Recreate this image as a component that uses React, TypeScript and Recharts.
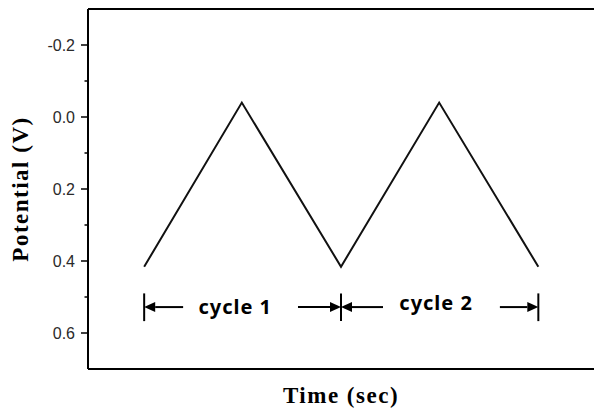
import { LineChart, Line, XAxis, YAxis, ReferenceLine, ReferenceDot } from "recharts";

// triangular potential sweep (time in arbitrary units, potential in V)
const times = [11.1, 30.4, 50, 69.4, 89];
const potentials = [0.416, -0.04, 0.416, -0.04, 0.416];

// y ticks: majors labelled, minors in between
const yTicks = [-0.2, -0.1, 0, 0.1, 0.2, 0.3, 0.4, 0.5, 0.6];

// cycle annotation
const cycleBounds = [11.1, 50, 89];
const arrowTails = [18.8, 41.5, 58.3, 81.4];
const arrowHeads = [11.1, 50, 50, 89];
const arrowLevel = 0.528;
const barRange = [0.49, 0.567];
const cycleLabels = ["cycle 1", "cycle 2"];
const cycleLabelX = [29.1, 68.8];
const cycleLabelY = [0.528, 0.515];

const data = times.map((t, i) => ({ t, v: potentials[i] }));

const YTick = (props: any) => {
  const { x, y, payload, tickSize = 7, tickMargin = 6 } = props;
  const axisX = x + tickSize + tickMargin;
  const v = payload.value as number;
  const major = Math.round(v * 10) % 2 === 0;
  return (
    <g>
      <line x1={axisX - (major ? 7 : 3.5)} x2={axisX} y1={y} y2={y} stroke="#000" strokeWidth={1.5} />
      {major && (
        <text
          x={x}
          y={y}
          dy={6}
          textAnchor="end"
          fontFamily="'Liberation Sans', Arial, sans-serif"
          fontSize={16}
          fill="#2a2a2a"
        >
          {v.toFixed(1)}
        </text>
      )}
    </g>
  );
};

const Arrow = (props: any) => {
  const { x1, y1, x2, y2 } = props;
  const dir = x2 > x1 ? 1 : -1;
  const head = 11;
  return (
    <g>
      <line x1={x1} y1={y1} x2={x2 - dir * head} y2={y2} stroke="#000" strokeWidth={2} />
      <polygon
        points={`${x2},${y2} ${x2 - dir * head},${y2 - 5} ${x2 - dir * head},${y2 + 5}`}
        fill="#000"
      />
    </g>
  );
};

export default function App() {
  return (
    <div style={{ position: "absolute", left: 0, top: 0, width: 594, height: 412, background: "#fff" }}>
      <LineChart width={594} height={412} data={data} margin={{ top: 9, right: 0, bottom: 0, left: 0 }}>
        <XAxis
          dataKey="t"
          type="number"
          domain={[0, 100]}
          height={43}
          tick={false}
          tickLine={false}
          axisLine={{ stroke: "#000", strokeWidth: 2 }}
          label={{
            value: "Time (sec)",
            position: "insideBottom",
            offset: 9,
            style: {
              fontFamily: "'Liberation Serif', 'Times New Roman', serif",
              fontWeight: 700,
              fontSize: 23,
              letterSpacing: 1.5,
              fill: "#000",
            },
          }}
        />
        <YAxis
          type="number"
          domain={[-0.3, 0.7]}
          reversed
          ticks={yTicks}
          interval={0}
          width={88}
          tickSize={7}
          tickMargin={6}
          tickLine={false}
          tick={<YTick />}
          axisLine={{ stroke: "#000", strokeWidth: 2 }}
          label={{
            value: "Potential (V)",
            angle: -90,
            position: "insideLeft",
            offset: 20,
            style: {
              textAnchor: "middle",
              fontFamily: "'Liberation Serif', 'Times New Roman', serif",
              fontWeight: 700,
              fontSize: 23,
              letterSpacing: 1.5,
              fill: "#000",
            },
          }}
        />
        <ReferenceLine y={-0.3} stroke="#000" strokeWidth={2} />
        <Line
          type="linear"
          dataKey="v"
          stroke="#111"
          strokeWidth={2}
          dot={false}
          activeDot={false}
          isAnimationActive={false}
        />
        {cycleBounds.map((x) => (
          <ReferenceLine
            key={`b${x}`}
            segment={[
              { x, y: barRange[0] },
              { x, y: barRange[1] },
            ]}
            stroke="#000"
            strokeWidth={2}
          />
        ))}
        {arrowTails.map((tail, i) => (
          <ReferenceLine
            key={`a${i}`}
            segment={[
              { x: tail, y: arrowLevel },
              { x: arrowHeads[i], y: arrowLevel },
            ]}
            shape={<Arrow />}
          />
        ))}
        {cycleLabels.map((lbl, i) => (
          <ReferenceDot
            key={lbl}
            x={cycleLabelX[i]}
            y={cycleLabelY[i]}
            r={0}
            fill="none"
            stroke="none"
            label={{
              value: lbl,
              position: "center",
              style: {
                fontFamily: "'Noto Sans', sans-serif",
                fontWeight: 700,
                fontSize: 20,
                letterSpacing: 1,
                fill: "#000",
              },
            }}
          />
        ))}
      </LineChart>
    </div>
  );
}
